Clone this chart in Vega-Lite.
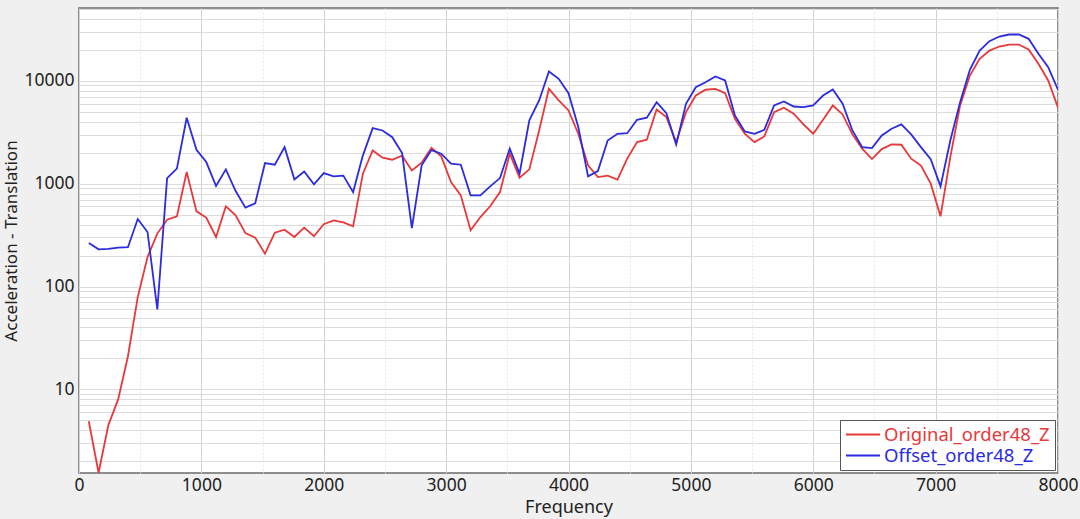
{
  "$schema": "https://vega.github.io/schema/vega-lite/v6.json",
  "width": 979,
  "height": 465,
  "autosize": "none",
  "padding": {"left": 79, "top": 8, "right": 22, "bottom": 46},
  "background": "#f0f0f0",
  "view": {"fill": "white", "stroke": "#6b6b6b", "strokeWidth": 1.5},
  "config": {"font": "Noto Sans"},
  "data": {
    "values": [
      {"Frequency": 80, "Series": "Original_order48_Z", "Value": 4.9},
      {"Frequency": 160, "Series": "Original_order48_Z", "Value": 1.55},
      {"Frequency": 240, "Series": "Original_order48_Z", "Value": 4.5},
      {"Frequency": 320, "Series": "Original_order48_Z", "Value": 8},
      {"Frequency": 400, "Series": "Original_order48_Z", "Value": 21},
      {"Frequency": 480, "Series": "Original_order48_Z", "Value": 79},
      {"Frequency": 560, "Series": "Original_order48_Z", "Value": 194},
      {"Frequency": 640, "Series": "Original_order48_Z", "Value": 327},
      {"Frequency": 720, "Series": "Original_order48_Z", "Value": 447},
      {"Frequency": 800, "Series": "Original_order48_Z", "Value": 481},
      {"Frequency": 880, "Series": "Original_order48_Z", "Value": 1297},
      {"Frequency": 960, "Series": "Original_order48_Z", "Value": 538},
      {"Frequency": 1040, "Series": "Original_order48_Z", "Value": 468},
      {"Frequency": 1120, "Series": "Original_order48_Z", "Value": 303},
      {"Frequency": 1200, "Series": "Original_order48_Z", "Value": 603},
      {"Frequency": 1280, "Series": "Original_order48_Z", "Value": 492},
      {"Frequency": 1360, "Series": "Original_order48_Z", "Value": 331},
      {"Frequency": 1440, "Series": "Original_order48_Z", "Value": 299},
      {"Frequency": 1520, "Series": "Original_order48_Z", "Value": 209},
      {"Frequency": 1600, "Series": "Original_order48_Z", "Value": 334},
      {"Frequency": 1680, "Series": "Original_order48_Z", "Value": 357},
      {"Frequency": 1760, "Series": "Original_order48_Z", "Value": 303},
      {"Frequency": 1840, "Series": "Original_order48_Z", "Value": 374},
      {"Frequency": 1920, "Series": "Original_order48_Z", "Value": 308},
      {"Frequency": 2000, "Series": "Original_order48_Z", "Value": 403},
      {"Frequency": 2080, "Series": "Original_order48_Z", "Value": 440},
      {"Frequency": 2160, "Series": "Original_order48_Z", "Value": 421},
      {"Frequency": 2240, "Series": "Original_order48_Z", "Value": 385},
      {"Frequency": 2320, "Series": "Original_order48_Z", "Value": 1250},
      {"Frequency": 2400, "Series": "Original_order48_Z", "Value": 2104},
      {"Frequency": 2480, "Series": "Original_order48_Z", "Value": 1787},
      {"Frequency": 2560, "Series": "Original_order48_Z", "Value": 1709},
      {"Frequency": 2640, "Series": "Original_order48_Z", "Value": 1870},
      {"Frequency": 2720, "Series": "Original_order48_Z", "Value": 1346},
      {"Frequency": 2800, "Series": "Original_order48_Z", "Value": 1600},
      {"Frequency": 2880, "Series": "Original_order48_Z", "Value": 2230},
      {"Frequency": 2960, "Series": "Original_order48_Z", "Value": 1841},
      {"Frequency": 3040, "Series": "Original_order48_Z", "Value": 1038},
      {"Frequency": 3120, "Series": "Original_order48_Z", "Value": 770},
      {"Frequency": 3200, "Series": "Original_order48_Z", "Value": 352},
      {"Frequency": 3280, "Series": "Original_order48_Z", "Value": 474},
      {"Frequency": 3360, "Series": "Original_order48_Z", "Value": 603},
      {"Frequency": 3440, "Series": "Original_order48_Z", "Value": 828},
      {"Frequency": 3520, "Series": "Original_order48_Z", "Value": 1954},
      {"Frequency": 3600, "Series": "Original_order48_Z", "Value": 1143},
      {"Frequency": 3680, "Series": "Original_order48_Z", "Value": 1377},
      {"Frequency": 3760, "Series": "Original_order48_Z", "Value": 3289},
      {"Frequency": 3840, "Series": "Original_order48_Z", "Value": 8356},
      {"Frequency": 3920, "Series": "Original_order48_Z", "Value": 6440},
      {"Frequency": 4000, "Series": "Original_order48_Z", "Value": 5152},
      {"Frequency": 4080, "Series": "Original_order48_Z", "Value": 3055},
      {"Frequency": 4160, "Series": "Original_order48_Z", "Value": 1507},
      {"Frequency": 4240, "Series": "Original_order48_Z", "Value": 1159},
      {"Frequency": 4320, "Series": "Original_order48_Z", "Value": 1197},
      {"Frequency": 4400, "Series": "Original_order48_Z", "Value": 1094},
      {"Frequency": 4480, "Series": "Original_order48_Z", "Value": 1750},
      {"Frequency": 4560, "Series": "Original_order48_Z", "Value": 2535},
      {"Frequency": 4640, "Series": "Original_order48_Z", "Value": 2673},
      {"Frequency": 4720, "Series": "Original_order48_Z", "Value": 5260},
      {"Frequency": 4800, "Series": "Original_order48_Z", "Value": 4436},
      {"Frequency": 4880, "Series": "Original_order48_Z", "Value": 2535},
      {"Frequency": 4960, "Series": "Original_order48_Z", "Value": 4955},
      {"Frequency": 5040, "Series": "Original_order48_Z", "Value": 7194},
      {"Frequency": 5120, "Series": "Original_order48_Z", "Value": 8185},
      {"Frequency": 5200, "Series": "Original_order48_Z", "Value": 8356},
      {"Frequency": 5280, "Series": "Original_order48_Z", "Value": 7586},
      {"Frequency": 5360, "Series": "Original_order48_Z", "Value": 4276},
      {"Frequency": 5440, "Series": "Original_order48_Z", "Value": 3055},
      {"Frequency": 5520, "Series": "Original_order48_Z", "Value": 2535},
      {"Frequency": 5600, "Series": "Original_order48_Z", "Value": 2877},
      {"Frequency": 5680, "Series": "Original_order48_Z", "Value": 4955},
      {"Frequency": 5760, "Series": "Original_order48_Z", "Value": 5470},
      {"Frequency": 5840, "Series": "Original_order48_Z", "Value": 4786},
      {"Frequency": 5920, "Series": "Original_order48_Z", "Value": 3767},
      {"Frequency": 6000, "Series": "Original_order48_Z", "Value": 3055},
      {"Frequency": 6080, "Series": "Original_order48_Z", "Value": 4178},
      {"Frequency": 6160, "Series": "Original_order48_Z", "Value": 5754},
      {"Frequency": 6240, "Series": "Original_order48_Z", "Value": 4710},
      {"Frequency": 6320, "Series": "Original_order48_Z", "Value": 3013},
      {"Frequency": 6400, "Series": "Original_order48_Z", "Value": 2188},
      {"Frequency": 6480, "Series": "Original_order48_Z", "Value": 1734},
      {"Frequency": 6560, "Series": "Original_order48_Z", "Value": 2168},
      {"Frequency": 6640, "Series": "Original_order48_Z", "Value": 2410},
      {"Frequency": 6720, "Series": "Original_order48_Z", "Value": 2390},
      {"Frequency": 6800, "Series": "Original_order48_Z", "Value": 1750},
      {"Frequency": 6880, "Series": "Original_order48_Z", "Value": 1500},
      {"Frequency": 6960, "Series": "Original_order48_Z", "Value": 1000},
      {"Frequency": 7040, "Series": "Original_order48_Z", "Value": 481},
      {"Frequency": 7120, "Series": "Original_order48_Z", "Value": 1811},
      {"Frequency": 7200, "Series": "Original_order48_Z", "Value": 5754},
      {"Frequency": 7280, "Series": "Original_order48_Z", "Value": 11250},
      {"Frequency": 7360, "Series": "Original_order48_Z", "Value": 16330},
      {"Frequency": 7440, "Series": "Original_order48_Z", "Value": 19680},
      {"Frequency": 7520, "Series": "Original_order48_Z", "Value": 21530},
      {"Frequency": 7600, "Series": "Original_order48_Z", "Value": 22500},
      {"Frequency": 7680, "Series": "Original_order48_Z", "Value": 22500},
      {"Frequency": 7760, "Series": "Original_order48_Z", "Value": 20140},
      {"Frequency": 7840, "Series": "Original_order48_Z", "Value": 14620},
      {"Frequency": 7920, "Series": "Original_order48_Z", "Value": 10070},
      {"Frequency": 8000, "Series": "Original_order48_Z", "Value": 5470},
      {"Frequency": 80, "Series": "Offset_order48_Z", "Value": 265},
      {"Frequency": 160, "Series": "Offset_order48_Z", "Value": 230},
      {"Frequency": 240, "Series": "Offset_order48_Z", "Value": 232},
      {"Frequency": 320, "Series": "Offset_order48_Z", "Value": 239},
      {"Frequency": 400, "Series": "Offset_order48_Z", "Value": 241},
      {"Frequency": 480, "Series": "Offset_order48_Z", "Value": 453},
      {"Frequency": 560, "Series": "Offset_order48_Z", "Value": 339},
      {"Frequency": 640, "Series": "Offset_order48_Z", "Value": 60},
      {"Frequency": 720, "Series": "Offset_order48_Z", "Value": 1132},
      {"Frequency": 800, "Series": "Offset_order48_Z", "Value": 1400},
      {"Frequency": 880, "Series": "Offset_order48_Z", "Value": 4375},
      {"Frequency": 960, "Series": "Offset_order48_Z", "Value": 2138},
      {"Frequency": 1040, "Series": "Offset_order48_Z", "Value": 1622},
      {"Frequency": 1120, "Series": "Offset_order48_Z", "Value": 948},
      {"Frequency": 1200, "Series": "Offset_order48_Z", "Value": 1377},
      {"Frequency": 1280, "Series": "Offset_order48_Z", "Value": 848},
      {"Frequency": 1360, "Series": "Offset_order48_Z", "Value": 585},
      {"Frequency": 1440, "Series": "Offset_order48_Z", "Value": 645},
      {"Frequency": 1520, "Series": "Offset_order48_Z", "Value": 1585},
      {"Frequency": 1600, "Series": "Offset_order48_Z", "Value": 1528},
      {"Frequency": 1680, "Series": "Offset_order48_Z", "Value": 2266},
      {"Frequency": 1760, "Series": "Offset_order48_Z", "Value": 1101},
      {"Frequency": 1840, "Series": "Offset_order48_Z", "Value": 1315},
      {"Frequency": 1920, "Series": "Offset_order48_Z", "Value": 984},
      {"Frequency": 2000, "Series": "Offset_order48_Z", "Value": 1268},
      {"Frequency": 2080, "Series": "Offset_order48_Z", "Value": 1177},
      {"Frequency": 2160, "Series": "Offset_order48_Z", "Value": 1197},
      {"Frequency": 2240, "Series": "Offset_order48_Z", "Value": 828},
      {"Frequency": 2320, "Series": "Offset_order48_Z", "Value": 1884},
      {"Frequency": 2400, "Series": "Offset_order48_Z", "Value": 3467},
      {"Frequency": 2480, "Series": "Offset_order48_Z", "Value": 3289},
      {"Frequency": 2560, "Series": "Offset_order48_Z", "Value": 2831},
      {"Frequency": 2640, "Series": "Offset_order48_Z", "Value": 1982},
      {"Frequency": 2720, "Series": "Offset_order48_Z", "Value": 370},
      {"Frequency": 2800, "Series": "Offset_order48_Z", "Value": 1507},
      {"Frequency": 2880, "Series": "Offset_order48_Z", "Value": 2120},
      {"Frequency": 2960, "Series": "Offset_order48_Z", "Value": 1954},
      {"Frequency": 3040, "Series": "Offset_order48_Z", "Value": 1563},
      {"Frequency": 3120, "Series": "Offset_order48_Z", "Value": 1528},
      {"Frequency": 3200, "Series": "Offset_order48_Z", "Value": 770},
      {"Frequency": 3280, "Series": "Offset_order48_Z", "Value": 770},
      {"Frequency": 3360, "Series": "Offset_order48_Z", "Value": 941},
      {"Frequency": 3440, "Series": "Offset_order48_Z", "Value": 1133},
      {"Frequency": 3520, "Series": "Offset_order48_Z", "Value": 2188},
      {"Frequency": 3600, "Series": "Offset_order48_Z", "Value": 1250},
      {"Frequency": 3680, "Series": "Offset_order48_Z", "Value": 4121},
      {"Frequency": 3760, "Series": "Offset_order48_Z", "Value": 6440},
      {"Frequency": 3840, "Series": "Offset_order48_Z", "Value": 12300},
      {"Frequency": 3920, "Series": "Offset_order48_Z", "Value": 10450},
      {"Frequency": 4000, "Series": "Offset_order48_Z", "Value": 7586},
      {"Frequency": 4080, "Series": "Offset_order48_Z", "Value": 3548},
      {"Frequency": 4160, "Series": "Offset_order48_Z", "Value": 1177},
      {"Frequency": 4240, "Series": "Offset_order48_Z", "Value": 1325},
      {"Frequency": 4320, "Series": "Offset_order48_Z", "Value": 2630},
      {"Frequency": 4400, "Series": "Offset_order48_Z", "Value": 3055},
      {"Frequency": 4480, "Series": "Offset_order48_Z", "Value": 3097},
      {"Frequency": 4560, "Series": "Offset_order48_Z", "Value": 4178},
      {"Frequency": 4640, "Series": "Offset_order48_Z", "Value": 4375},
      {"Frequency": 4720, "Series": "Offset_order48_Z", "Value": 6200},
      {"Frequency": 4800, "Series": "Offset_order48_Z", "Value": 4850},
      {"Frequency": 4880, "Series": "Offset_order48_Z", "Value": 2393},
      {"Frequency": 4960, "Series": "Offset_order48_Z", "Value": 5980},
      {"Frequency": 5040, "Series": "Offset_order48_Z", "Value": 8670},
      {"Frequency": 5120, "Series": "Offset_order48_Z", "Value": 9690},
      {"Frequency": 5200, "Series": "Offset_order48_Z", "Value": 11010},
      {"Frequency": 5280, "Series": "Offset_order48_Z", "Value": 10070},
      {"Frequency": 5360, "Series": "Offset_order48_Z", "Value": 4600},
      {"Frequency": 5440, "Series": "Offset_order48_Z", "Value": 3220},
      {"Frequency": 5520, "Series": "Offset_order48_Z", "Value": 3055},
      {"Frequency": 5600, "Series": "Offset_order48_Z", "Value": 3340},
      {"Frequency": 5680, "Series": "Offset_order48_Z", "Value": 5754},
      {"Frequency": 5760, "Series": "Offset_order48_Z", "Value": 6295},
      {"Frequency": 5840, "Series": "Offset_order48_Z", "Value": 5623},
      {"Frequency": 5920, "Series": "Offset_order48_Z", "Value": 5545},
      {"Frequency": 6000, "Series": "Offset_order48_Z", "Value": 5754},
      {"Frequency": 6080, "Series": "Offset_order48_Z", "Value": 7194},
      {"Frequency": 6160, "Series": "Offset_order48_Z", "Value": 8245},
      {"Frequency": 6240, "Series": "Offset_order48_Z", "Value": 5980},
      {"Frequency": 6320, "Series": "Offset_order48_Z", "Value": 3289},
      {"Frequency": 6400, "Series": "Offset_order48_Z", "Value": 2266},
      {"Frequency": 6480, "Series": "Offset_order48_Z", "Value": 2218},
      {"Frequency": 6560, "Series": "Offset_order48_Z", "Value": 2944},
      {"Frequency": 6640, "Series": "Offset_order48_Z", "Value": 3420},
      {"Frequency": 6720, "Series": "Offset_order48_Z", "Value": 3767},
      {"Frequency": 6800, "Series": "Offset_order48_Z", "Value": 3013},
      {"Frequency": 6880, "Series": "Offset_order48_Z", "Value": 2266},
      {"Frequency": 6960, "Series": "Offset_order48_Z", "Value": 1730},
      {"Frequency": 7040, "Series": "Offset_order48_Z", "Value": 941},
      {"Frequency": 7120, "Series": "Offset_order48_Z", "Value": 2630},
      {"Frequency": 7200, "Series": "Offset_order48_Z", "Value": 6200},
      {"Frequency": 7280, "Series": "Offset_order48_Z", "Value": 12790},
      {"Frequency": 7360, "Series": "Offset_order48_Z", "Value": 19680},
      {"Frequency": 7440, "Series": "Offset_order48_Z", "Value": 24270},
      {"Frequency": 7520, "Series": "Offset_order48_Z", "Value": 26920},
      {"Frequency": 7600, "Series": "Offset_order48_Z", "Value": 28180},
      {"Frequency": 7680, "Series": "Offset_order48_Z", "Value": 28180},
      {"Frequency": 7760, "Series": "Offset_order48_Z", "Value": 25590},
      {"Frequency": 7840, "Series": "Offset_order48_Z", "Value": 18280},
      {"Frequency": 7920, "Series": "Offset_order48_Z", "Value": 13550},
      {"Frequency": 8000, "Series": "Offset_order48_Z", "Value": 8185}
    ]
  },
  "mark": {"type": "line", "strokeWidth": 1.8, "clip": true},
  "encoding": {
    "x": {
      "field": "Frequency",
      "type": "quantitative",
      "scale": {"domain": [0, 8000], "nice": false},
      "axis": {
        "title": "Frequency",
        "values": [0, 500, 1000, 1500, 2000, 2500, 3000, 3500, 4000, 4500, 5000, 5500, 6000, 6500, 7000, 7500, 8000],
        "format": "d",
        "labelExpr": "datum.value % 1000 == 0 ? datum.label : ''",
        "labelOverlap": false,
        "labelFlush": false,
        "domain": false,
        "ticks": false,
        "labelFontSize": 17.5,
        "titleFontSize": 18,
        "titleFontWeight": "normal",
        "labelColor": "#222222",
        "titleColor": "#222222",
        "labelPadding": 3,
        "titlePadding": 5,
        "gridColor": {"condition": {"test": "datum.value % 1000 != 0", "value": "#e6e6e6"}, "value": "#d2d2d2"},
        "gridDash": {"condition": {"test": "datum.value % 1000 != 0", "value": [2, 2]}, "value": []}
      }
    },
    "y": {
      "field": "Value",
      "type": "quantitative",
      "scale": {"type": "log", "domain": [1.54, 51000], "nice": false},
      "axis": {
        "title": "Acceleration - Translation",
        "values": [2, 3, 4, 5, 6, 7, 8, 9, 10, 20, 30, 40, 50, 60, 70, 80, 90, 100, 200, 300, 400, 500, 600, 700, 800, 900, 1000, 2000, 3000, 4000, 5000, 6000, 7000, 8000, 9000, 10000, 20000, 30000, 40000, 50000],
        "format": "d",
        "labelExpr": "(datum.value == 10 || datum.value == 100 || datum.value == 1000 || datum.value == 10000) ? datum.label : ''",
        "labelOverlap": false,
        "domain": false,
        "ticks": false,
        "labelFontSize": 17.5,
        "titleFontSize": 17,
        "titleFontWeight": "normal",
        "labelColor": "#222222",
        "titleColor": "#222222",
        "labelPadding": 5,
        "titlePadding": 3,
        "gridColor": "#dcdcdc"
      }
    },
    "color": {
      "field": "Series",
      "type": "nominal",
      "scale": {"domain": ["Original_order48_Z", "Offset_order48_Z"], "range": ["#e8383a", "#2b2be0"]},
      "legend": {
        "title": null,
        "orient": "bottom-right",
        "offset": 3,
        "padding": 5,
        "strokeColor": "#555555",
        "fillColor": "white",
        "cornerRadius": 0,
        "symbolType": "M-1,0H3",
        "symbolSize": 289,
        "symbolStrokeWidth": 1.8,
        "labelFontSize": 18.5,
        "labelLimit": 300,
        "labelOffset": 20,
        "rowPadding": 2,
        "encode": {"labels": {"update": {"fill": {"scale": "color", "field": "value"}}}}
      }
    }
  }
}
